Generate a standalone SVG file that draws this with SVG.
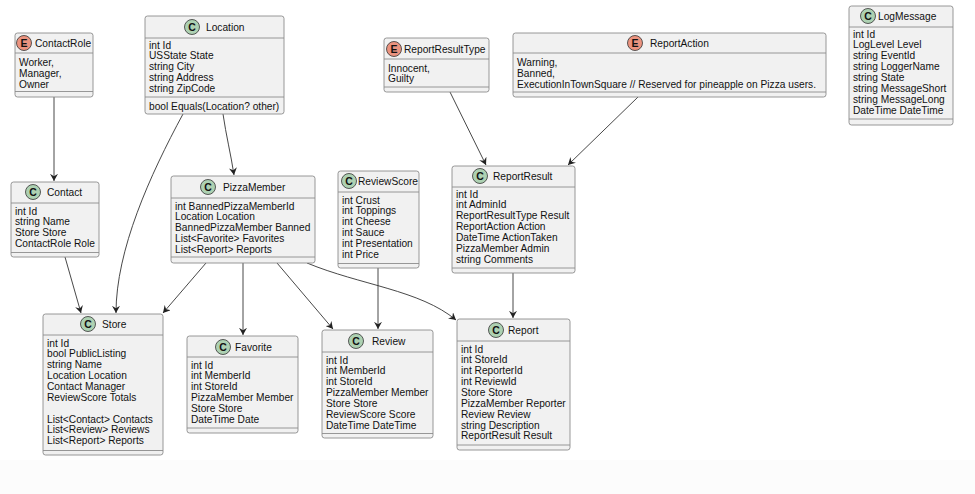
<svg xmlns="http://www.w3.org/2000/svg" width="975" height="494" viewBox="0 0 975 494">
<style>
.box{fill:#F1F1F1;stroke:#8C8C8C;stroke-width:0.9}
.sep{stroke:#8C8C8C;stroke-width:0.9}
.t{font-family:"Liberation Sans",Arial,sans-serif;font-size:10.2px;fill:#111}
.ci{stroke:#333;stroke-width:0.8}
.cc{fill:#ADD1B2}
.ce{fill:#EB937F}
.lt{font-family:"Liberation Sans",Arial,sans-serif;font-size:10.5px;font-weight:bold;fill:#111;text-anchor:middle}
.e{fill:none;stroke:#333;stroke-width:0.9}
</style>
<defs>
<marker id="arr" viewBox="0 0 10 10" refX="9" refY="5" markerWidth="8" markerHeight="8" orient="auto" markerUnits="userSpaceOnUse">
<path d="M0,0 L9,5 L0,10 L3,5 Z" fill="#222"/>
</marker>
</defs>
<rect x="0" y="0" width="975" height="494" fill="#FFFFFF"/>
<rect x="0" y="460" width="975" height="34" fill="#FCFCFC"/>

<g id="connectors">
<path class="e" d="M54,97 L54,181" marker-end="url(#arr)"/>
<path class="e" d="M183,114 C150,175 116,250 116,313" marker-end="url(#arr)"/>
<path class="e" d="M223,114 C226,135 231,155 234,175" marker-end="url(#arr)"/>
<path class="e" d="M65,257 L81,313" marker-end="url(#arr)"/>
<path class="e" d="M206,263 L163,313" marker-end="url(#arr)"/>
<path class="e" d="M243,263 L243,335" marker-end="url(#arr)"/>
<path class="e" d="M277,263 L333,329" marker-end="url(#arr)"/>
<path class="e" d="M307,263 C360,285 420,290 456,320" marker-end="url(#arr)"/>
<path class="e" d="M378,268 L378,329" marker-end="url(#arr)"/>
<path class="e" d="M450,92 L486,165" marker-end="url(#arr)"/>
<path class="e" d="M638,97 L568,165" marker-end="url(#arr)"/>
<path class="e" d="M513,273 L513,318" marker-end="url(#arr)"/>
</g>

<g id="ContactRole">
<rect class="box" x="15" y="33" width="78" height="64" rx="2.5"/>
<line class="sep" x1="15" y1="53" x2="93" y2="53"/>
<line class="sep" x1="15" y1="91.5" x2="93" y2="91.5"/>
<circle class="ci ce" cx="24" cy="43" r="7.5"/>
<text class="lt" x="24" y="46.8">E</text>
<text class="t" x="35" y="46.5">ContactRole</text>
<text class="t" x="19" y="66">Worker,</text>
<text class="t" x="19" y="76.9">Manager,</text>
<text class="t" x="19" y="87.7">Owner</text>
</g>

<g id="Location">
<rect class="box" x="145" y="16" width="139" height="98" rx="2.5"/>
<line class="sep" x1="145" y1="38" x2="284" y2="38"/>
<line class="sep" x1="145" y1="97" x2="284" y2="97"/>
<circle class="ci cc" cx="192" cy="27" r="7.5"/>
<text class="lt" x="192" y="30.8">C</text>
<text class="t" x="206" y="30.5">Location</text>
<text class="t" x="149" y="48.5">int Id</text>
<text class="t" x="149" y="59.4">USState State</text>
<text class="t" x="149" y="70.2">string City</text>
<text class="t" x="149" y="81.1">string Address</text>
<text class="t" x="149" y="91.9">string ZipCode</text>
<text class="t" x="149" y="109.5">bool Equals(Location? other)</text>
</g>

<g id="ReportResultType">
<rect class="box" x="384" y="38" width="105" height="54" rx="2.5"/>
<line class="sep" x1="384" y1="59" x2="489" y2="59"/>
<line class="sep" x1="384" y1="87" x2="489" y2="87"/>
<circle class="ci ce" cx="394" cy="49" r="7.5"/>
<text class="lt" x="394" y="52.8">E</text>
<text class="t" x="404" y="52.5">ReportResultType</text>
<text class="t" x="388" y="71.5">Innocent,</text>
<text class="t" x="388" y="82.4">Guilty</text>
</g>

<g id="ReportAction">
<rect class="box" x="513" y="33" width="313" height="64" rx="2.5"/>
<line class="sep" x1="513" y1="53" x2="826" y2="53"/>
<line class="sep" x1="513" y1="92" x2="826" y2="92"/>
<circle class="ci ce" cx="635" cy="43" r="7.5"/>
<text class="lt" x="635" y="46.8">E</text>
<text class="t" x="650" y="46.5">ReportAction</text>
<text class="t" x="517" y="66">Warning,</text>
<text class="t" x="517" y="76.9">Banned,</text>
<text class="t" x="517" y="87.7">ExecutionInTownSquare // Reserved for pineapple on Pizza users.</text>
</g>

<g id="LogMessage">
<rect class="box" x="849" y="6" width="104" height="119" rx="2.5"/>
<line class="sep" x1="849" y1="27" x2="953" y2="27"/>
<line class="sep" x1="849" y1="119" x2="953" y2="119"/>
<circle class="ci cc" cx="868" cy="16" r="7.5"/>
<text class="lt" x="868" y="19.8">C</text>
<text class="t" x="878" y="19.5">LogMessage</text>
<text class="t" x="853" y="37.5">int Id</text>
<text class="t" x="853" y="48.4">LogLevel Level</text>
<text class="t" x="853" y="59.2">string EventId</text>
<text class="t" x="853" y="70.1">string LoggerName</text>
<text class="t" x="853" y="80.9">string State</text>
<text class="t" x="853" y="91.8">string MessageShort</text>
<text class="t" x="853" y="102.6">string MessageLong</text>
<text class="t" x="853" y="113.5">DateTime DateTime</text>
</g>

<g id="Contact">
<rect class="box" x="11" y="182" width="88" height="75" rx="2.5"/>
<line class="sep" x1="11" y1="203" x2="99" y2="203"/>
<line class="sep" x1="11" y1="252.5" x2="99" y2="252.5"/>
<circle class="ci cc" cx="33" cy="192" r="7.5"/>
<text class="lt" x="33" y="195.8">C</text>
<text class="t" x="47" y="195.5">Contact</text>
<text class="t" x="15" y="214.5">int Id</text>
<text class="t" x="15" y="225.4">string Name</text>
<text class="t" x="15" y="236.2">Store Store</text>
<text class="t" x="15" y="247.1">ContactRole Role</text>
</g>

<g id="PizzaMember">
<rect class="box" x="171" y="176" width="144" height="87" rx="2.5"/>
<line class="sep" x1="171" y1="198" x2="315" y2="198"/>
<line class="sep" x1="171" y1="257" x2="315" y2="257"/>
<circle class="ci cc" cx="208" cy="187" r="7.5"/>
<text class="lt" x="208" y="190.8">C</text>
<text class="t" x="223" y="190.5">PizzaMember</text>
<text class="t" x="175" y="209.5">int BannedPizzaMemberId</text>
<text class="t" x="175" y="220.4">Location Location</text>
<text class="t" x="175" y="231.2">BannedPizzaMember Banned</text>
<text class="t" x="175" y="242.1">List&lt;Favorite&gt; Favorites</text>
<text class="t" x="175" y="252.9">List&lt;Report&gt; Reports</text>
</g>

<g id="ReviewScore">
<rect class="box" x="338" y="171" width="81" height="97" rx="2.5"/>
<line class="sep" x1="338" y1="192" x2="419" y2="192"/>
<line class="sep" x1="338" y1="263.5" x2="419" y2="263.5"/>
<circle class="ci cc" cx="349" cy="181" r="7.5"/>
<text class="lt" x="349" y="184.8">C</text>
<text class="t" x="358" y="184.5">ReviewScore</text>
<text class="t" x="342" y="203.5">int Crust</text>
<text class="t" x="342" y="214.4">int Toppings</text>
<text class="t" x="342" y="225.2">int Cheese</text>
<text class="t" x="342" y="236.1">int Sauce</text>
<text class="t" x="342" y="246.9">int Presentation</text>
<text class="t" x="342" y="257.8">int Price</text>
</g>

<g id="ReportResult">
<rect class="box" x="452" y="166" width="123" height="107" rx="2.5"/>
<line class="sep" x1="452" y1="187" x2="575" y2="187"/>
<line class="sep" x1="452" y1="268" x2="575" y2="268"/>
<circle class="ci cc" cx="480" cy="176" r="7.5"/>
<text class="lt" x="480" y="179.8">C</text>
<text class="t" x="493" y="179.5">ReportResult</text>
<text class="t" x="456" y="197.5">int Id</text>
<text class="t" x="456" y="208.4">int AdminId</text>
<text class="t" x="456" y="219.2">ReportResultType Result</text>
<text class="t" x="456" y="230.1">ReportAction Action</text>
<text class="t" x="456" y="240.9">DateTime ActionTaken</text>
<text class="t" x="456" y="251.8">PizzaMember Admin</text>
<text class="t" x="456" y="262.6">string Comments</text>
</g>

<g id="Store">
<rect class="box" x="43" y="314" width="120" height="141" rx="2.5"/>
<line class="sep" x1="43" y1="335" x2="163" y2="335"/>
<line class="sep" x1="43" y1="450.5" x2="163" y2="450.5"/>
<circle class="ci cc" cx="88" cy="324" r="7.5"/>
<text class="lt" x="88" y="327.8">C</text>
<text class="t" x="102" y="327.5">Store</text>
<text class="t" x="47" y="346.5">int Id</text>
<text class="t" x="47" y="357.4">bool PublicListing</text>
<text class="t" x="47" y="368.2">string Name</text>
<text class="t" x="47" y="379.1">Location Location</text>
<text class="t" x="47" y="389.9">Contact Manager</text>
<text class="t" x="47" y="400.8">ReviewScore Totals</text>
<text class="t" x="47" y="422.5">List&lt;Contact&gt; Contacts</text>
<text class="t" x="47" y="433.3">List&lt;Review&gt; Reviews</text>
<text class="t" x="47" y="444.2">List&lt;Report&gt; Reports</text>
</g>

<g id="Favorite">
<rect class="box" x="187" y="336" width="111" height="97" rx="2.5"/>
<line class="sep" x1="187" y1="357" x2="298" y2="357"/>
<line class="sep" x1="187" y1="428" x2="298" y2="428"/>
<circle class="ci cc" cx="223" cy="347" r="7.5"/>
<text class="lt" x="223" y="350.8">C</text>
<text class="t" x="235" y="350.5">Favorite</text>
<text class="t" x="191" y="368.5">int Id</text>
<text class="t" x="191" y="379.4">int MemberId</text>
<text class="t" x="191" y="390.2">int StoreId</text>
<text class="t" x="191" y="401.1">PizzaMember Member</text>
<text class="t" x="191" y="411.9">Store Store</text>
<text class="t" x="191" y="422.8">DateTime Date</text>
</g>

<g id="Review">
<rect class="box" x="322" y="330" width="111" height="108" rx="2.5"/>
<line class="sep" x1="322" y1="352" x2="433" y2="352"/>
<line class="sep" x1="322" y1="433.5" x2="433" y2="433.5"/>
<circle class="ci cc" cx="356" cy="341" r="7.5"/>
<text class="lt" x="356" y="344.8">C</text>
<text class="t" x="372" y="344.5">Review</text>
<text class="t" x="326" y="363.5">int Id</text>
<text class="t" x="326" y="374.4">int MemberId</text>
<text class="t" x="326" y="385.2">int StoreId</text>
<text class="t" x="326" y="396.1">PizzaMember Member</text>
<text class="t" x="326" y="406.9">Store Store</text>
<text class="t" x="326" y="417.8">ReviewScore Score</text>
<text class="t" x="326" y="428.6">DateTime DateTime</text>
</g>

<g id="Report">
<rect class="box" x="457" y="319" width="113" height="131" rx="2.5"/>
<line class="sep" x1="457" y1="341" x2="570" y2="341"/>
<line class="sep" x1="457" y1="445" x2="570" y2="445"/>
<circle class="ci cc" cx="496" cy="330" r="7.5"/>
<text class="lt" x="496" y="333.8">C</text>
<text class="t" x="508" y="333.5">Report</text>
<text class="t" x="461" y="352.5">int Id</text>
<text class="t" x="461" y="363.4">int StoreId</text>
<text class="t" x="461" y="374.2">int ReporterId</text>
<text class="t" x="461" y="385.1">int ReviewId</text>
<text class="t" x="461" y="395.9">Store Store</text>
<text class="t" x="461" y="406.8">PizzaMember Reporter</text>
<text class="t" x="461" y="417.6">Review Review</text>
<text class="t" x="461" y="428.5">string Description</text>
<text class="t" x="461" y="439.3">ReportResult Result</text>
</g>
</svg>
